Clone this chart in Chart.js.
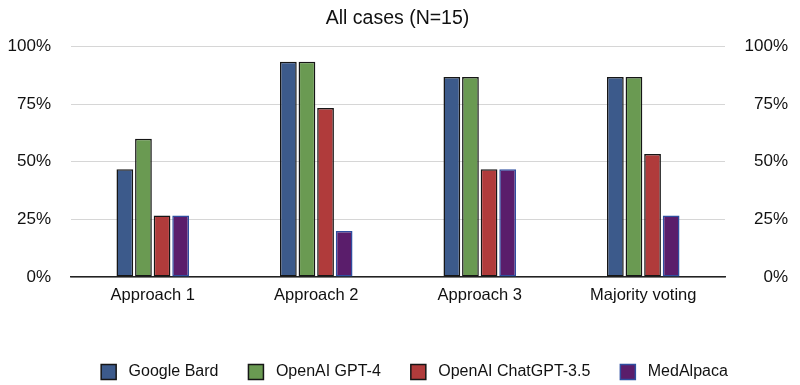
<!DOCTYPE html>
<html>
<head>
<meta charset="utf-8">
<script src="https://cdn.jsdelivr.net/npm/chart.js@4/dist/chart.umd.min.js"></script>
<style>
  html, body { margin: 0; padding: 0; background: #fff; }
  #wrap { width: 800px; height: 385px; }
</style>
</head>
<body>
<div id="wrap"><canvas id="chartAllCases"></canvas></div>
<script>
// values (N=15, so steps of 1/15)
var categories = ['Approach 1', 'Approach 2', 'Approach 3', 'Majority voting'];
var seriesNames = ['Google Bard', 'OpenAI GPT-4', 'OpenAI ChatGPT-3.5', 'MedAlpaca'];
var googleBard = [46.7, 93.3, 86.7, 86.7];
var gpt4 = [60.0, 93.3, 86.7, 86.7];
var chatgpt35 = [26.7, 73.3, 46.7, 53.3];
var medAlpaca = [26.7, 20.0, 46.7, 26.7];
var tickValues = [0, 25, 50, 75, 100];

var fillColors = ['#3c5a8b', '#6a9a52', '#b03b3b', '#5a1d6b'];
var edgeColors = ['#161616', '#161616', '#161616', '#2f4ea0'];
var allSeries = [googleBard, gpt4, chatgpt35, medAlpaca];

var datasets = [];
for (var i = 0; i < allSeries.length; i++) {
    datasets.push({
        label: seriesNames[i],
        data: allSeries[i],
        backgroundColor: fillColors[i],
        borderColor: edgeColors[i],
        borderWidth: 1.5,
        borderSkipped: false,
        barPercentage: 0.9,
        categoryPercentage: 0.455
    });
}

var fontFamily = 'Liberation Sans, Arial, Helvetica, sans-serif';

function pctTicks(scale) {
    scale.ticks = tickValues.map(function (v) { return { value: v }; });
}

// legend: a bit more room between box and text
function legendLabels(chart) {
    var items = Chart.defaults.plugins.legend.labels.generateLabels(chart);
    items.forEach(function (it) { it.text = ' ' + it.text; });
    return items;
}

// the original legend sits slightly right of centre
var legendNudge = {
    id: 'legendNudge',
    afterLayout: function (chart) {
        chart.legend.left += 17;
        chart.legend.right += 17;
    }
};

window.chartAllCases = new Chart(document.getElementById('chartAllCases'), {
    type: 'bar',
    data: { labels: categories, datasets: datasets },
    plugins: [legendNudge],
    options: {
        responsive: true,
        maintainAspectRatio: false,
        animation: false,
        layout: { padding: { left: 7, right: 12, top: 0, bottom: -5 } },
        plugins: {
            title: {
                display: true,
                text: 'All cases (N=15)',
                color: '#111',
                font: { family: fontFamily, size: 19.5, weight: 'normal' },
                padding: { top: 7, bottom: 16 }
            },
            legend: {
                position: 'bottom',
                labels: {
                    color: '#111',
                    font: { family: fontFamily, size: 16 },
                    boxWidth: 15,
                    boxHeight: 15,
                    padding: 30,
                    generateLabels: legendLabels
                }
            },
            tooltip: { enabled: false }
        },
        scales: {
            x: {
                grid: { display: false },
                border: { color: '#222', width: 1.5 },
                ticks: { color: '#111', font: { family: fontFamily, size: 16.5 }, padding: 1 },
                afterFit: function (s) { s.height = 57; }
            },
            y: {
                min: 0, max: 100,
                afterBuildTicks: pctTicks,
                border: { display: false },
                grid: { color: '#d6d6d6', drawTicks: false },
                ticks: {
                    color: '#111', font: { family: fontFamily, size: 17 }, padding: 20,
                    callback: function (v) { return v + '%'; }
                },
                afterFit: function (s) { s.width = 64; }
            },
            y2: {
                display: true,
                position: 'right',
                min: 0, max: 100,
                afterBuildTicks: pctTicks,
                border: { display: false },
                grid: { display: false, drawTicks: false },
                ticks: {
                    color: '#111', font: { family: fontFamily, size: 17 }, padding: 20,
                    crossAlign: 'far',
                    callback: function (v) { return v + '%'; }
                },
                afterFit: function (s) { s.width = 63; }
            }
        }
    }
});
</script>
</body>
</html>
